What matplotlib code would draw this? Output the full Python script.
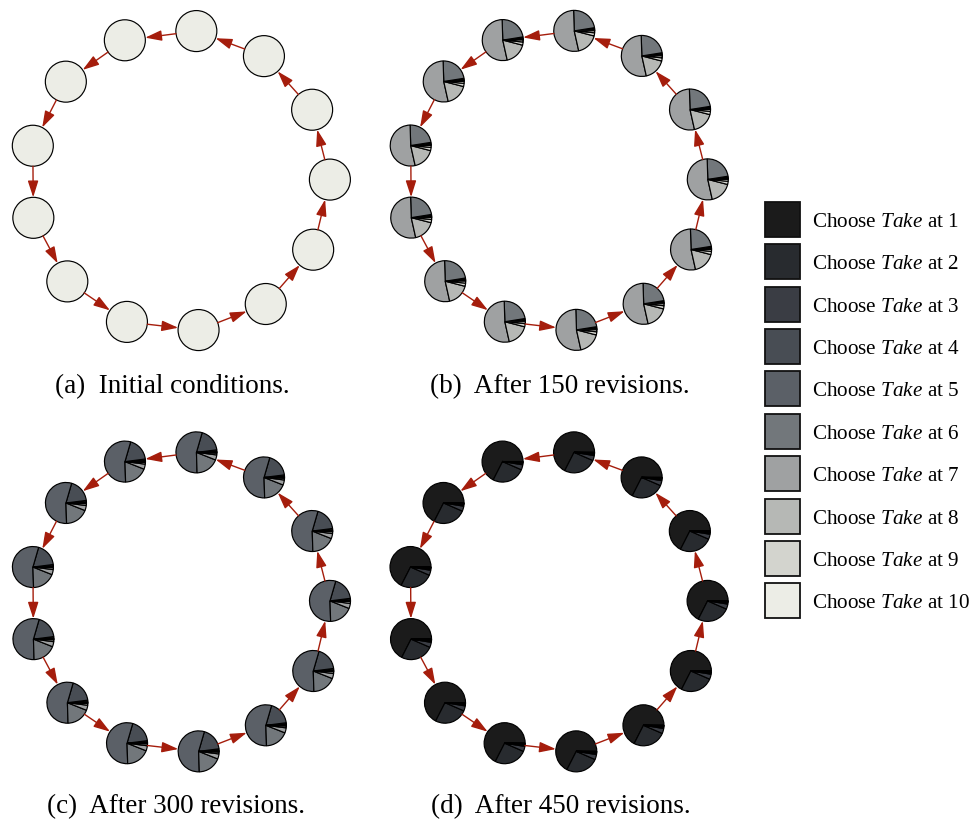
import numpy as np
import matplotlib.pyplot as plt
from matplotlib.patches import FancyArrowPatch, Rectangle

plt.rcParams['font.family'] = 'Liberation Serif'
plt.rcParams['mathtext.fontset'] = 'custom'
plt.rcParams['mathtext.rm'] = 'Liberation Serif'
plt.rcParams['mathtext.it'] = 'Liberation Serif:italic'

W, H = 974, 827

# strategies 1..10, darkest first
strategies = ["Choose $\\mathit{Take}$ at %d" % k for k in range(1, 11)]
colors = ['#1b1b1b', '#282b2f', '#3a3d44', '#484d54', '#5b6067',
          '#72777b', '#9fa1a2', '#b6b8b5', '#d3d4ce', '#ecede6']

# population share (%) of each strategy at every node, per snapshot
initial = [0, 0, 0, 0, 0, 0, 0, 0, 0, 100]
after_150 = [0.3, 0.3, 0.4, 0.5, 1.0, 23, 53, 17.5, 2.5, 1.5]
after_300 = [0.3, 0.5, 1.2, 18.5, 55, 18.5, 4, 1.5, 0.3, 0.2]
after_450 = [67.5, 26, 4, 1, 0.5, 0.3, 0.2, 0.2, 0.2, 0.1]

captions = ['(a)  Initial conditions.', '(b)  After 150 revisions.',
            '(c)  After 300 revisions.', '(d)  After 450 revisions.']
snapshots = [initial, after_150, after_300, after_450]

n_nodes = 13

# ring layout (pixel coordinates, y down)
ring_centers = [(179.3, 180.7), (557.2, 180.5), (179.4, 602.0), (557.0, 602.0)]
caption_pos = [(172, 393), (560, 393), (176, 813), (561, 813)]
ring_r = 150.6
node_r = 20.5
start_deg = 83.5

fig = plt.figure(figsize=(W / 100, H / 100), dpi=100)
ax = fig.add_axes([0, 0, 1, 1])

for shares, (cx, cy), cap, (tx, ty) in zip(snapshots, ring_centers, captions, caption_pos):
    ang = np.deg2rad(start_deg + 360.0 / n_nodes * np.arange(n_nodes))
    xs = cx + ring_r * np.cos(ang)
    ys = (H - cy) + ring_r * np.sin(ang)

    vals = [v for v in shares if v > 0]
    cols = [c for v, c in zip(shares, colors) if v > 0]
    for x, y in zip(xs, ys):
        ax.pie(vals, colors=cols, center=(x, y), radius=node_r, startangle=0,
               counterclock=True, frame=True,
               wedgeprops=dict(edgecolor='black', linewidth=0.85))

    # directed ring: each node points to the next one counter-clockwise
    for i in range(n_nodes):
        j = (i + 1) % n_nodes
        p, q = np.array([xs[i], ys[i]]), np.array([xs[j], ys[j]])
        u = (q - p) / np.linalg.norm(q - p)
        arr = FancyArrowPatch(p + u * node_r, q - u * node_r,
                              arrowstyle='-|>,head_length=1.0,head_width=0.32',
                              mutation_scale=10, color='#a51d0c', lw=1.0,
                              shrinkA=0, shrinkB=0)
        ax.add_patch(arr)

    ax.text(tx, H - ty, cap, fontsize=19.5, ha='center', va='baseline')

# legend
for k, (lab, c) in enumerate(zip(strategies, colors)):
    top = 201.7 + 42.4 * k
    ax.add_patch(Rectangle((765, H - top - 35), 35, 35, facecolor=c,
                           edgecolor='#111111', linewidth=1.3))
    ax.text(812, H - (top + 25), lab, fontsize=15.2, ha='left', va='baseline')

ax.set_xlim(0, W)
ax.set_ylim(0, H)
ax.set_aspect('equal')
ax.axis('off')

plt.savefig('out.png', dpi=100)
